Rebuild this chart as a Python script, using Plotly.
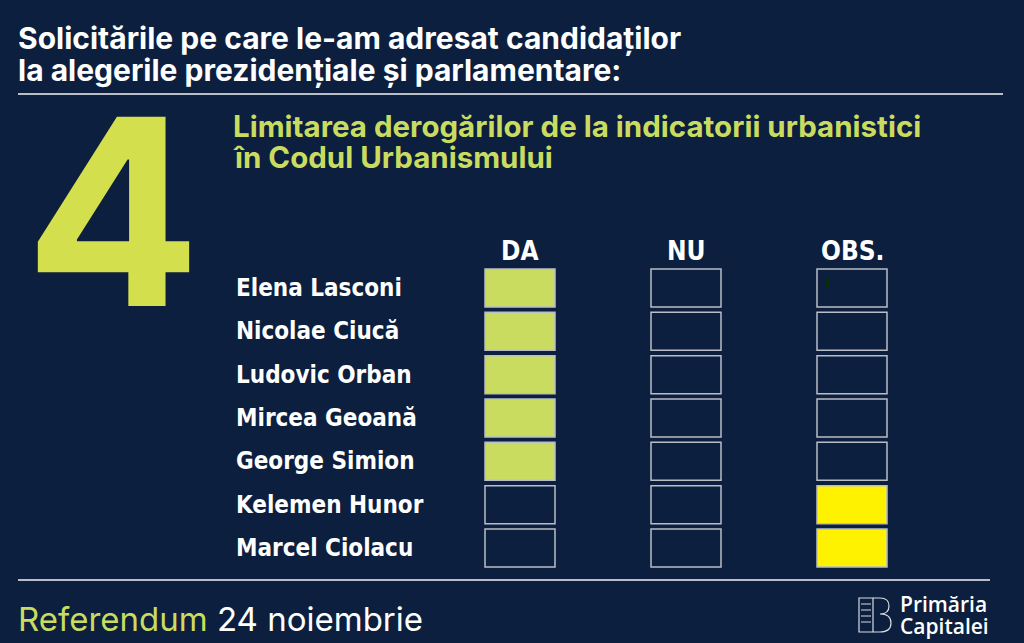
import plotly.graph_objects as go

# Date
candidati = ["Elena Lasconi", "Nicolae Ciucă", "Ludovic Orban", "Mircea Geoană",
             "George Simion", "Kelemen Hunor", "Marcel Ciolacu"]
coloane = ["DA", "NU", "OBS."]
raspunsuri = ["DA", "DA", "DA", "DA", "DA", "OBS.", "OBS."]

titlu = ["Solicitările pe care le-am adresat candidaților",
         "la alegerile prezidențiale și parlamentare:"]
numar = "4"
subtitlu = ["Limitarea derogărilor de la indicatorii urbanistici",
            "în Codul Urbanismului"]
logo = ["Primăria", "Capitalei"]

BG = "#0c1f3e"
GREEN = "#c9dc60"
YELLOW = "#fff200"
LINE = "#b9bdc6"
culori = {"DA": GREEN, "NU": GREEN, "OBS.": YELLOW}

W, H = 1024, 643
COND = "Liberation Sans Narrow, DejaVu Sans Condensed, Roboto Condensed, sans-serif"
SANS = "Inter, Roboto, Liberation Sans, sans-serif"


def px(x):
    return x / W


def py(y):
    return 1 - y / H


fig = go.Figure(go.Scatter(x=[None], y=[None], mode="markers", showlegend=False, hoverinfo="skip"))

# axes: column 0 at 520px, 166px per column; row 0 at 288px, 43.33px per row
x0 = -520 / 166
y0 = -288 / 43.33
fig.update_xaxes(range=[x0, x0 + W / 166], visible=False, fixedrange=True)
fig.update_yaxes(range=[y0 + H / 43.33, y0], visible=False, fixedrange=True)

bw, bh = 70 / 166, 38 / 43.33
shapes = []
for i, r in enumerate(raspunsuri):
    for j, c in enumerate(coloane):
        fill = culori[c] if r == c else BG
        shapes.append(dict(type="rect", xref="x", yref="y",
                           x0=j - bw / 2, x1=j + bw / 2, y0=i - bh / 2, y1=i + bh / 2,
                           fillcolor=fill, line=dict(color=LINE, width=1.5), layer="above"))

# small stray mark in the first OBS box
shapes.append(dict(type="rect", xref="x", yref="y",
                   x0=2 - bw / 2 + 9 / 166, x1=2 - bw / 2 + 12 / 166,
                   y0=-bh / 2 + 8 / 43.33, y1=-bh / 2 + 18 / 43.33,
                   fillcolor="#0b2a14", line=dict(width=0), layer="above"))

# separator lines
shapes.append(dict(type="line", xref="paper", yref="paper", x0=px(18), x1=px(1003),
                   y0=py(94), y1=py(94), line=dict(color=LINE, width=2)))
shapes.append(dict(type="line", xref="paper", yref="paper", x0=px(18), x1=px(990),
                   y0=py(580), y1=py(580), line=dict(color=LINE, width=2)))

# logo icon (rough)
IC = "#d8dbe2"
shapes.append(dict(type="rect", xref="paper", yref="paper", x0=px(859), x1=px(873),
                   y0=py(632), y1=py(598), line=dict(color=IC, width=1.2)))
shapes.append(dict(type="path", xref="paper", yref="paper",
                   path=f"M {px(873)} {py(598)} L {px(880)} {py(598)} Q {px(889)} {py(598)} {px(889)} {py(606)} "
                        f"Q {px(889)} {py(614)} {px(880)} {py(614)} Q {px(891)} {py(614)} {px(891)} {py(623)} "
                        f"Q {px(891)} {py(632)} {px(880)} {py(632)} L {px(873)} {py(632)}",
                   line=dict(color=IC, width=1.2)))
for yy in (604, 610, 616, 622):
    shapes.append(dict(type="line", xref="paper", yref="paper", x0=px(861), x1=px(871),
                       y0=py(yy), y1=py(yy), line=dict(color=IC, width=1)))
fig.update_layout(shapes=shapes)

ann = []
for i, n in enumerate(candidati):
    ann.append(dict(text=n, xref="paper", yref="y", x=px(234), y=i, xanchor="left", yanchor="middle",
                    showarrow=False, font=dict(family=COND, size=24, color="white", weight="bold")))
for j, c in enumerate(coloane):
    ann.append(dict(text=c, xref="x", yref="y", x=j, y=-0.85, xanchor="center", yanchor="middle",
                    showarrow=False, font=dict(family=COND, size=26, color="white", weight="bold")))

for k, t in enumerate(titlu):
    ann.append(dict(text=t, xref="paper", yref="paper", x=px(16), y=py(38 + 32 * k),
                    xanchor="left", yanchor="middle", showarrow=False,
                    font=dict(family=SANS, size=30, color="white", weight="bold")))
ann.append(dict(text=numar, xref="paper", yref="paper", x=px(113), y=py(211),
                xanchor="center", yanchor="middle", showarrow=False,
                font=dict(family=SANS, size=260, color="#d4df4e", weight="bold")))
for k, t in enumerate(subtitlu):
    ann.append(dict(text=t, xref="paper", yref="paper", x=px(231), y=py(126 + 31 * k),
                    xanchor="left", yanchor="middle", showarrow=False,
                    font=dict(family=SANS, size=29.5, color=GREEN, weight="bold")))
ann.append(dict(text=f"<span style='color:{GREEN}'>Referendum</span> 24 noiembrie",
                xref="paper", yref="paper", x=px(16), y=py(619), xanchor="left", yanchor="middle",
                showarrow=False, font=dict(family=SANS, size=33, color="white")))
for k, t in enumerate(logo):
    ann.append(dict(text=t, xref="paper", yref="paper", x=px(898), y=py(604 + 22 * k),
                    xanchor="left", yanchor="middle", showarrow=False,
                    font=dict(family="Open Sans, Noto Sans, sans-serif", size=21, color="white", weight=600)))
fig.update_layout(annotations=ann)

fig.update_layout(width=W, height=H, margin=dict(l=0, r=0, t=0, b=0),
                  paper_bgcolor=BG, plot_bgcolor=BG, showlegend=False)

fig.write_html("out.html", config={"displayModeBar": False},
               post_script="document.body.style.margin='0';document.body.style.background='#0c1f3e';")
